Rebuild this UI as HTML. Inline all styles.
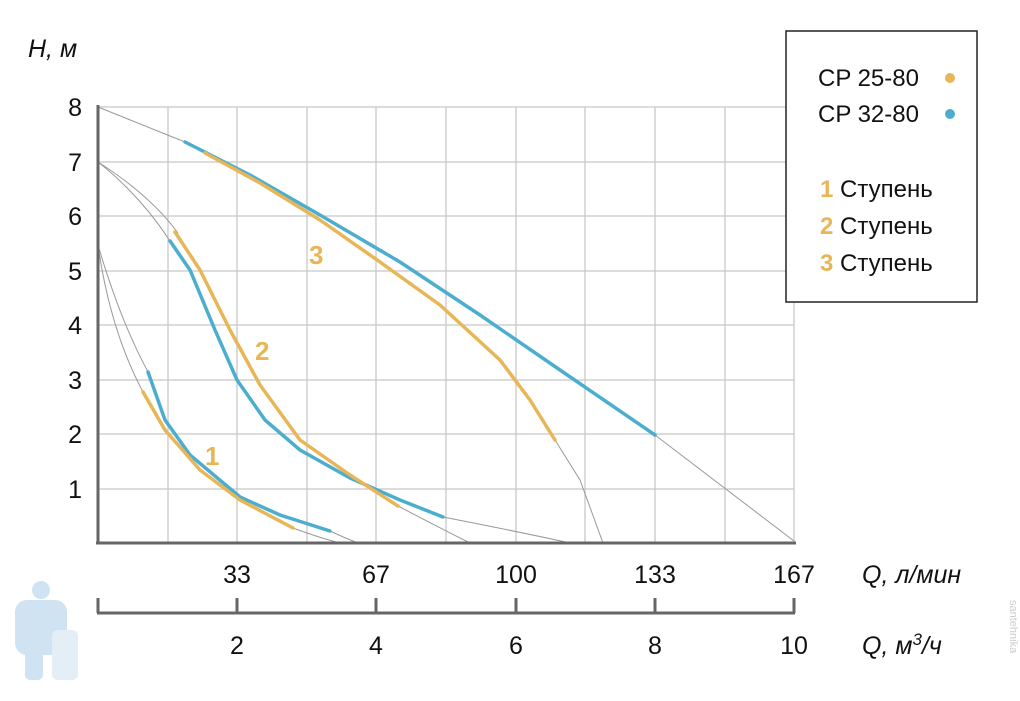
<!DOCTYPE html>
<html><head><meta charset="utf-8"><style>
body{margin:0;background:#fff;width:1020px;height:696px;overflow:hidden}
svg text{font-family:"Liberation Sans","DejaVu Sans",sans-serif}
</style></head><body>
<svg width="1020" height="696" viewBox="0 0 1020 696" xmlns="http://www.w3.org/2000/svg">
<g stroke="#c8c8c8" stroke-width="1.3" fill="none">
<line x1="98" y1="107" x2="794" y2="107"/><line x1="98" y1="162" x2="794" y2="162"/>
<line x1="98" y1="216" x2="794" y2="216"/><line x1="98" y1="271" x2="794" y2="271"/>
<line x1="98" y1="325" x2="794" y2="325"/><line x1="98" y1="380" x2="794" y2="380"/>
<line x1="98" y1="434" x2="794" y2="434"/><line x1="98" y1="489" x2="794" y2="489"/>
<line x1="168" y1="107" x2="168" y2="543"/><line x1="237" y1="107" x2="237" y2="543"/>
<line x1="307" y1="107" x2="307" y2="543"/><line x1="376" y1="107" x2="376" y2="543"/>
<line x1="446" y1="107" x2="446" y2="543"/><line x1="516" y1="107" x2="516" y2="543"/>
<line x1="585" y1="107" x2="585" y2="543"/><line x1="655" y1="107" x2="655" y2="543"/>
<line x1="725" y1="107" x2="725" y2="543"/><line x1="794" y1="107" x2="794" y2="543"/>
</g>
<g stroke="#999" stroke-width="1" fill="none">
<polyline points="98,107 185,142"/><polyline points="655,435 794,541"/>
<polyline points="555,440 580,480 603,543"/>
<path d="M98,162 Q140,195 170,241"/><path d="M98,162 Q150,195 178,233"/>
<path d="M443,517 Q520,532 570,543"/><path d="M398,506 Q440,528 470,543"/>
<path d="M98,245 Q110,330 143,392"/><path d="M98,245 Q120,320 148,372"/>
<path d="M293,528 Q320,538 340,543"/><path d="M330,531 Q345,538 358,543"/>
</g>
<g fill="none" stroke-width="3.5" stroke-linecap="round" stroke-linejoin="round">
<polyline stroke="#4BAECF" points="185,142 250,175 320,215 400,262 480,315 560,370 655,435"/>
<polyline stroke="#E8B557" points="205,153 260,183 320,220 380,262 440,305 500,360 530,400 555,440"/>
<polyline stroke="#4BAECF" points="170,241 190,270 215,330 237,380 265,420 300,450 350,478 400,500 443,517"/>
<polyline stroke="#E8B557" points="175,232 200,270 230,330 260,385 300,440 350,475 398,506"/>
<polyline stroke="#4BAECF" points="148,372 165,420 190,455 240,497 280,515 330,531"/>
<polyline stroke="#E8B557" points="143,392 165,430 200,470 240,500 293,528"/>
</g>
<g fill="#E8B557" font-size="26" font-weight="bold">
<text x="205" y="465">1</text><text x="255" y="360">2</text><text x="309" y="264">3</text>
</g>
<g stroke="#666" stroke-width="3" fill="none">
<line x1="98" y1="105" x2="98" y2="544"/><line x1="96" y1="543" x2="796" y2="543"/>
<line x1="97" y1="613" x2="795" y2="613"/>
<line x1="98" y1="598" x2="98" y2="613"/><line x1="237" y1="598" x2="237" y2="613"/>
<line x1="376" y1="598" x2="376" y2="613"/><line x1="516" y1="598" x2="516" y2="613"/>
<line x1="655" y1="598" x2="655" y2="613"/><line x1="794" y1="598" x2="794" y2="613"/>
</g>
<g font-size="25" fill="#111" text-anchor="end">
<text x="82" y="116">8</text><text x="82" y="171">7</text><text x="82" y="225">6</text>
<text x="82" y="280">5</text><text x="82" y="334">4</text><text x="82" y="389">3</text>
<text x="82" y="443">2</text><text x="82" y="498">1</text>
</g>
<g font-size="25" fill="#111" text-anchor="middle">
<text x="237" y="583">33</text><text x="376" y="583">67</text><text x="516" y="583">100</text>
<text x="655" y="583">133</text><text x="794" y="583">167</text>
<text x="237" y="654">2</text><text x="376" y="654">4</text><text x="516" y="654">6</text>
<text x="655" y="654">8</text><text x="794" y="654">10</text>
</g>
<g font-size="25" fill="#111" font-style="italic">
<text x="28" y="57">H, м</text>
<text x="862" y="583">Q, л/мин</text>
<text x="862" y="654">Q, м<tspan font-size="17" dy="-9">3</tspan><tspan dy="9">/ч</tspan></text>
</g>
<rect x="786" y="31" width="191" height="271" fill="#fff" stroke="#222" stroke-width="1.5"/>
<g font-size="24" fill="#111">
<text x="818" y="86">CP 25-80</text><circle cx="950" cy="78" r="5" fill="#E8B557"/>
<text x="818" y="122">CP 32-80</text><circle cx="950" cy="114" r="5" fill="#4BAECF"/>
<text x="820" y="197"><tspan fill="#E8B557" font-weight="bold">1</tspan> Ступень</text>
<text x="820" y="234"><tspan fill="#E8B557" font-weight="bold">2</tspan> Ступень</text>
<text x="820" y="271"><tspan fill="#E8B557" font-weight="bold">3</tspan> Ступень</text>
</g>
<g fill="#cfe3f3">
<circle cx="41" cy="590" r="9"/><rect x="15" y="600" width="52" height="55" rx="12"/>
<rect x="25" y="650" width="18" height="30" rx="5"/><rect x="52" y="630" width="26" height="50" rx="6" fill="#e4eef7"/>
</g>
<text x="1010" y="600" font-size="11" fill="#ccc" transform="rotate(90 1010 600)">santehnika</text>
</svg>
</body></html>
